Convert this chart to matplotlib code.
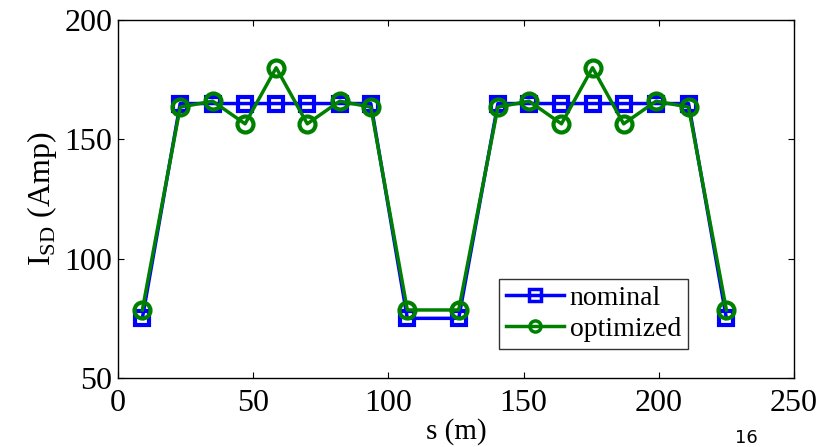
import numpy as np
import matplotlib.pyplot as plt

plt.rcParams['font.family'] = ['Liberation Serif', 'DejaVu Serif']
plt.rcParams['mathtext.fontset'] = 'custom'
plt.rcParams['mathtext.rm'] = 'Liberation Serif'

s = [9, 23, 35, 47, 58.5, 70, 82, 93.5, 107, 126,
     140.5, 152, 164, 175.5, 187, 199, 211, 225]
nominal = [75, 165, 165, 165, 165, 165, 165, 165, 75, 75,
           165, 165, 165, 165, 165, 165, 165, 75]
optimized = [78.5, 163.5, 166, 156.5, 180, 156.5, 166, 163.5, 78.5, 78.5,
             163.5, 166, 156.5, 180, 156.5, 166, 163.5, 78.5]

fig = plt.figure(figsize=(8.25, 4.47), dpi=100)
ax = fig.add_axes([118 / 825, 1 - 378 / 447, (794 - 118) / 825, (378 - 20) / 447])

ax.plot(s, nominal, color='blue', lw=2.5, marker='s', ms=10.5, mew=3,
        mfc='none', label='nominal')
ax.plot(s, optimized, color='green', lw=2.5, marker='o', ms=11.5, mew=3,
        mfc='none', label='optimized')

ax.set_xlim(0, 250)
ax.set_ylim(50, 200)
ax.set_xticks([0, 50, 100, 150, 200, 250])
ax.set_yticks([50, 100, 150, 200])
ax.tick_params(direction='in', length=4, labelsize=23, top=True, right=True, pad=4)
ax.tick_params(axis='x', pad=8)
for sp in ax.spines.values():
    sp.set_linewidth(1.0)

ax.set_xlabel('s (m)', fontsize=21, labelpad=0)
ax.set_ylabel(r'I$_{\rm SD}$ (Amp)', fontsize=23, labelpad=4)

leg = ax.legend(loc='lower left', bbox_to_anchor=((499 - 118) / 676, (378 - 349) / 358),
                fontsize=20, frameon=True, fancybox=False, edgecolor='black',
                handlelength=2.1, borderpad=0.25, labelspacing=0.2, handletextpad=0.2,
                borderaxespad=0)
leg.get_frame().set_linewidth(1.0)
for h in leg.get_lines():
    h.set_markersize(8)
    h.set_markeredgewidth(2.5)

fig.text(735 / 825, 1 - 429 / 447, '16', fontsize=13, family='DejaVu Sans', va='top')

fig.savefig('out.png', dpi=100)
